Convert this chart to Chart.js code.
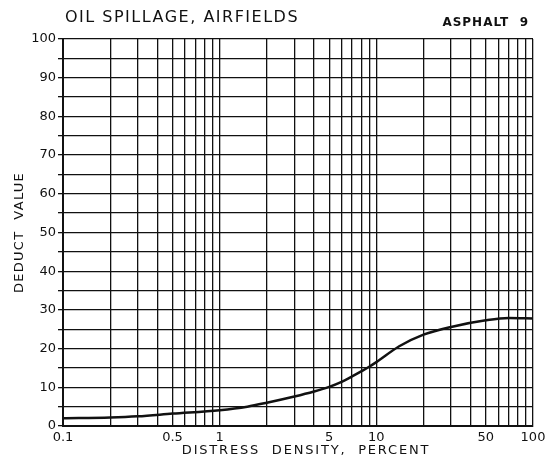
<!DOCTYPE html>
<html>
<head>
<meta charset="utf-8">
<script src="https://cdn.jsdelivr.net/npm/chart.js@4.4.1/dist/chart.umd.min.js"></script>
<style>
  html, body { margin: 0; padding: 0; background: #fff; }
  #wrap { position: relative; width: 550px; height: 466px; }
</style>
</head>
<body>
<div id="wrap"><canvas id="chart" width="550" height="466"></canvas></div>
<script>
// curve (distress density %, deduct value)
const density = [0.1, 0.2, 0.3, 0.5, 1, 1.5, 2, 3, 4, 5, 6, 7, 8, 9, 10, 14, 20, 30, 50, 70, 100];
const deduct = [2.0, 2.2, 2.5, 3.2, 4.1, 5.0, 6.0, 7.6, 8.9, 10.1, 11.4, 12.8, 14.1, 15.3, 16.5, 20.6, 23.6, 25.6, 27.3, 27.9, 27.8];

// log grid lines and the ones that carry a label
const xGrid = [0.1, 0.2, 0.3, 0.4, 0.5, 0.6, 0.7, 0.8, 0.9, 1, 2, 3, 4, 5, 6, 7, 8, 9, 10, 20, 30, 40, 50, 60, 70, 80, 90, 100];
const xTickValues = [0.1, 0.5, 1, 5, 10, 50, 100];
const xTickText = ['0.1', '0.5', '1', '5', '10', '50', '100'];

const chartTitle = 'OIL SPILLAGE, AIRFIELDS';
const chartTag = 'ASPHALT  9';
const xTitle = 'DISTRESS  DENSITY,  PERCENT';
const yTitle = 'DEDUCT  VALUE';

const FONT = "'DejaVu Sans', sans-serif";
const INK = '#111';

function spacedText(ctx, text, x, y, font, spacing, align) {
    ctx.font = font;
    ctx.letterSpacing = spacing + 'px';
    ctx.textAlign = align;
    ctx.fillText(text, x, y);
    ctx.letterSpacing = '0px';
}

const headerText = {
    id: 'headerText',
    afterDraw(chart) {
        const ctx = chart.ctx;
        const area = chart.chartArea;
        ctx.save();
        ctx.fillStyle = INK;
        ctx.textBaseline = 'middle';
        spacedText(ctx, chartTitle, 65, 18, '16px ' + FONT, 1.5, 'left');
        spacedText(ctx, chartTag, 529, 23, 'bold 12px ' + FONT, 1, 'right');
        spacedText(ctx, xTitle, 306, 451, '13px ' + FONT, 1.8, 'center');
        ctx.translate(19.5, (area.top + area.bottom) / 2);
        ctx.rotate(-Math.PI / 2);
        spacedText(ctx, yTitle, 0, 0, '13px ' + FONT, 1.3, 'center');
        ctx.restore();
    }
};

const data = density.map((d, i) => ({ x: d, y: deduct[i] }));

new Chart(document.getElementById('chart'), {
    type: 'line',
    data: {
        datasets: [{
            data: data,
            borderColor: INK,
            borderWidth: 2.5,
            pointRadius: 0,
            fill: false,
            cubicInterpolationMode: 'monotone',
        }]
    },
    options: {
        responsive: false,
        animation: false,
        layout: { padding: { top: 39, right: 17, left: 0, bottom: 0 } },
        plugins: { legend: { display: false }, tooltip: { enabled: false } },
        scales: {
            x: {
                type: 'logarithmic',
                min: 0.1,
                max: 100,
                afterBuildTicks: (scale) => { scale.ticks = xGrid.map(v => ({ value: v })); },
                afterFit: (scale) => { scale.height = 40; },
                grid: { color: INK, lineWidth: 1.3, drawTicks: false },
                border: { color: INK, width: 2 },
                ticks: {
                    autoSkip: false,
                    maxRotation: 0,
                    padding: 4,
                    color: INK,
                    font: { family: FONT, size: 13 },
                    callback: (v) => {
                        const i = xTickValues.findIndex(t => Math.abs(t - v) < 1e-9);
                        return i >= 0 ? xTickText[i] : '';
                    }
                }
            },
            y: {
                min: 0,
                max: 100,
                afterFit: (scale) => { scale.width = 63; },
                grid: { color: INK, lineWidth: 1.3, tickLength: 5 },
                border: { color: INK, width: 2 },
                ticks: {
                    stepSize: 5,
                    autoSkip: false,
                    padding: 2,
                    color: INK,
                    font: { family: FONT, size: 13 },
                    callback: (v) => (v % 10 === 0 ? String(v) : '')
                }
            }
        }
    },
    plugins: [headerText]
});
</script>
</body>
</html>
